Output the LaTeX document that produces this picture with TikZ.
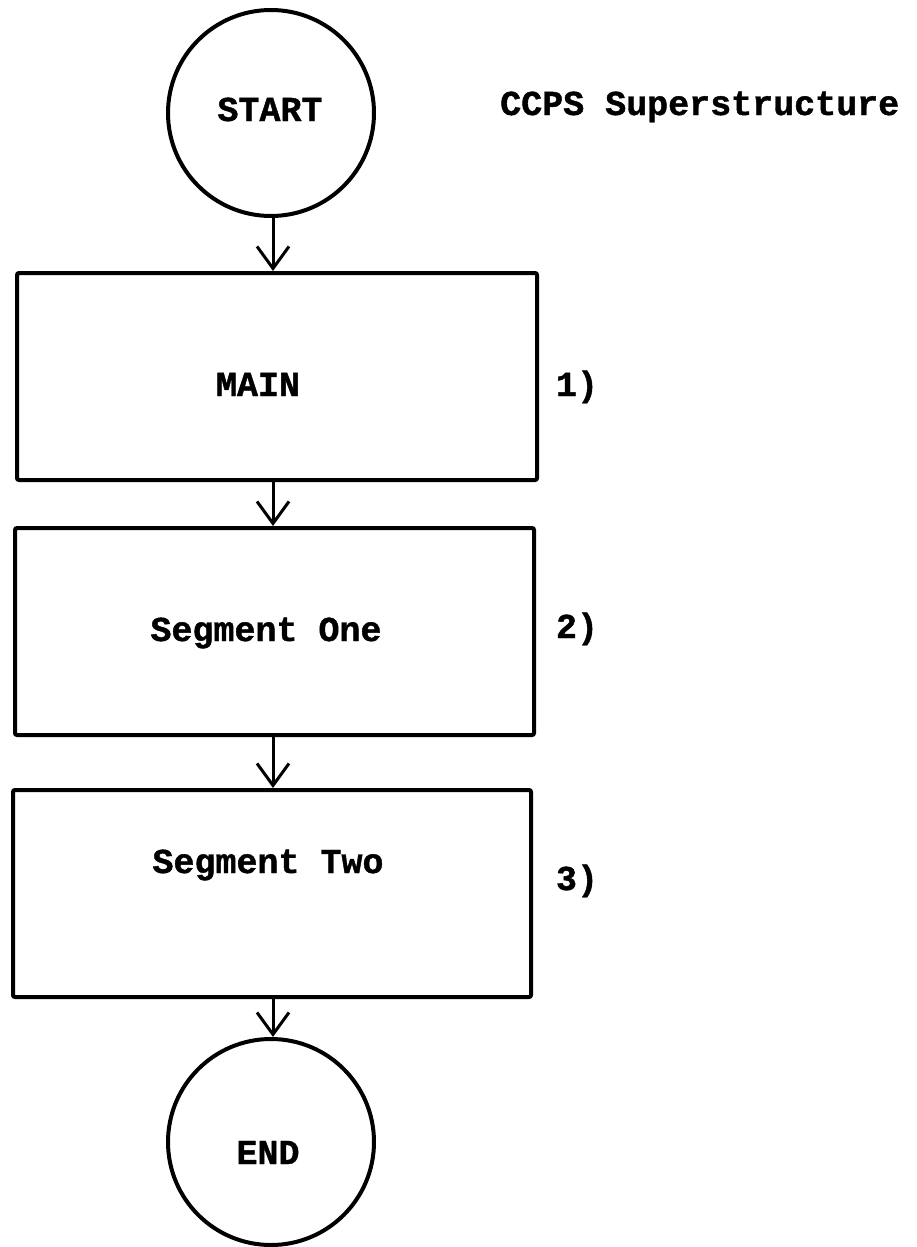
\documentclass[tikz,border=0pt]{standalone}
\usepackage{fontspec}
\setmainfont{Liberation Mono}[BoldFeatures={FakeBold=1.2}]
\usetikzlibrary{arrows.meta}
\begin{document}
\begin{tikzpicture}[x=1pt,y=-1pt,
  typed/.style={font=\fontsize{35}{40}\selectfont\bfseries, inner sep=0pt, anchor=base},
  terminal/.style={draw, circle, line width=4pt, minimum size=206pt, inner sep=0pt},
  stepbox/.style={draw, rectangle, line width=4pt, rounded corners=2pt, inner sep=0pt,
                  minimum height=207pt},
  flow/.style={line width=3pt, -{Straight Barb[length=22pt,width=32pt,line width=3pt]}}
]
\useasboundingbox (0,0) rectangle (916,1247);

% terminals
\node[terminal] (start) at (271,113) {};
\node[terminal] (end)   at (271,1142) {};

% program blocks
\node[stepbox, minimum width=520pt] (main) at (277,376.5) {};
\node[stepbox, minimum width=519pt] (seg1) at (274.5,631.5) {};
\node[stepbox, minimum width=518pt] (seg2) at (272,893.5) {};

% texts
\node[typed] (tstart) at (270,121) {START};
\node[typed, anchor=base west] (title) at (500,115) {CCPS Superstructure};
\node[typed] (tmain) at (258,396) {MAIN};
\node[typed] (tseg1) at (266,641) {Segment One};
\node[typed] (tseg2) at (268,873) {Segment Two};
\node[typed] (tend)  at (268,1164) {END};
\node[typed] (n1) at (577,396) {1)};
\node[typed] (n2) at (577,638) {2)};
\node[typed] (n3) at (577,890) {3)};

% connectors
\coordinate (a0) at (273,0);
\draw[flow] (start.south -| a0) -- (main.north -| a0);
\draw[flow] (main.south -| a0) -- (seg1.north -| a0);
\draw[flow] (seg1.south -| a0) -- (seg2.north -| a0);
\draw[flow] (seg2.south -| a0) -- (end.north -| a0);
\end{tikzpicture}
\end{document}
